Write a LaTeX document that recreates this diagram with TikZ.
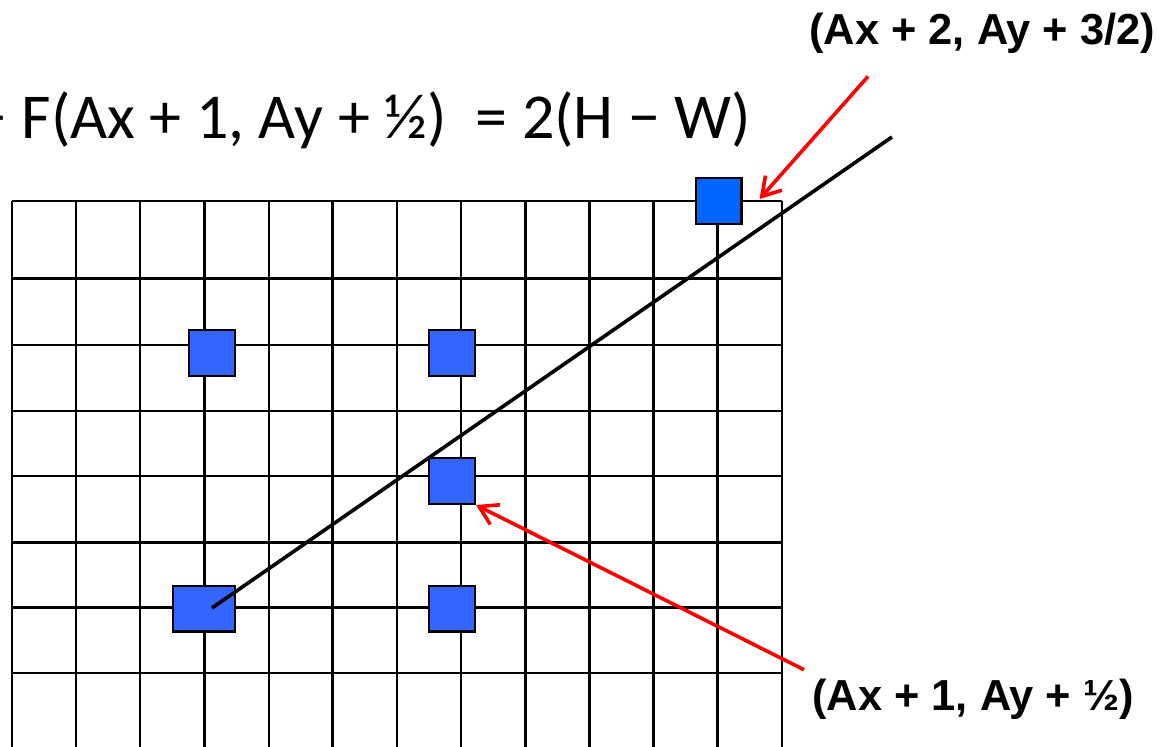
\documentclass[tikz,border=0pt]{standalone}
\usepackage{fontspec}
\setmainfont{Carlito}
\newfontfamily\labelfont{Liberation Sans}
\usetikzlibrary{arrows.meta}
\definecolor{pixblue}{RGB}{51,102,255}
\definecolor{pixtop}{RGB}{0,102,255}
\tikzset{
    grid line/.style={line width=1.1pt,draw=black},
    grid thick/.style={line width=1.5pt,draw=black},
    pix box/.style={draw=black,line width=1.2pt,fill=pixblue,inner sep=0pt,
      minimum width=22.8pt,minimum height=22.8pt},
    slope line/.style={line width=1.8pt,draw=black},
    mark line/.style={line width=1.8pt,draw=red,
      -{Straight Barb[length=9pt,width=11pt]}},
    coord label/.style={font=\labelfont\bfseries\fontsize{21.7}{26}\selectfont,
      inner sep=0pt,anchor=base west}
}

\begin{document}
\begin{tikzpicture}[x=0.5pt,y=-0.5pt]
  \useasboundingbox (0,0) rectangle (1159,747);

  % grid
  \foreach \gx in {0,1,2,4,6,7,9,12}
    \draw [grid line] (12+64.17*\gx,200.7) -- (12+64.17*\gx,747);
  \foreach \gx in {3,5,8,10,11}
    \draw [grid thick] (12+64.17*\gx,200.7) -- (12+64.17*\gx,747);
  \foreach \gy in {200.7,345,411,476,673}
    \draw [grid line] (12,\gy) -- (782,\gy);
  \foreach \gy in {279,542,607}
    \draw [grid thick] (12,\gy) -- (782,\gy);

  % pixels
  \node [pix box,fill=pixtop] (pixA) at (718.5,201) {};
  \node [pix box] (pixB) at (212,353) {};
  \node [pix box] (pixC) at (452,353) {};
  \node [pix box] (pixD) at (452,481) {};
  \node [pix box,minimum width=30.8pt] (pixE) at (204,608.5) {};
  \node [pix box] (pixF) at (452,608.5) {};

  \coordinate (lineS) at (212,608);
  \coordinate (lineE) at (892,137);
  \draw [slope line] (lineS) -- (lineE);

  % labels
  \node [font=\fontsize{32}{38}\selectfont,inner sep=0pt,anchor=base west]
  (eqn) at (-25,139) {− F(Ax + 1, Ay + ½)~~= 2(H − W)};
  \node [coord label] (labTop) at (809,45) {(Ax + 2, Ay + 3/2)};
  \node [coord label] (labMid) at (812,710) {(Ax + 1, Ay + ½)};

  % arrows
  \coordinate (tailA) at ([xshift=29.5pt,yshift=-11pt]labTop.south west);
  \coordinate (tailD) at ([xshift=-4pt,yshift=4.2pt]labMid.north west);
  \draw [mark line] (tailA) -- ([xshift=8.5pt,yshift=1pt]pixA.east);
  \draw [mark line] (tailD) -- (pixD.south east);

\end{tikzpicture}
\end{document}
